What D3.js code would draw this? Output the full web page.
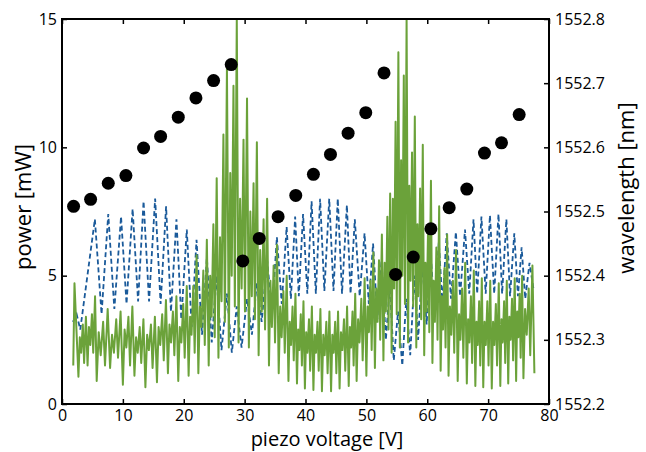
<!DOCTYPE html>
<html>
<head>
<meta charset="utf-8">
<script src="https://cdn.jsdelivr.net/npm/d3@7/dist/d3.min.js"></script>
<style>
  body { margin: 0; background: #fff; }
  text { font-family: "Open Sans", sans-serif; fill: #000; }
</style>
</head>
<body>
<svg id="svg"></svg>
<script>
// wavelength measured at each piezo step (black dots)
var dotV = [1.9, 4.7, 7.6, 10.5, 13.4, 16.2, 19.1, 22.0, 24.9, 27.8, 29.7, 32.4,
  35.5, 38.4, 41.3, 44.1, 47.0, 49.9, 52.9, 54.8, 57.7, 60.6, 63.6, 66.5, 69.4, 72.2, 75.1];
var dotNm = [1552.508, 1552.519, 1552.544, 1552.556, 1552.599, 1552.617, 1552.647, 1552.677,
  1552.704, 1552.729, 1552.423, 1552.458, 1552.492, 1552.525, 1552.558, 1552.589, 1552.622,
  1552.654, 1552.716, 1552.402, 1552.429, 1552.473, 1552.506, 1552.535, 1552.591, 1552.607, 1552.651];

// blue dashed trace: peaks and troughs of each fringe
var bluePeakV = [2.4, 5.4, 7.6, 9.7, 11.6, 13.4, 15.3, 17.1, 18.8, 20.5, 22.1, 23.8, 25.4, 27.1,
  28.7, 30.4, 32.0, 33.7, 35.3, 36.9, 38.3, 39.6, 41.0, 42.4, 43.9, 45.3, 46.8, 48.1, 49.7, 51.1,
  52.5, 53.85, 55.2, 56.55, 57.9, 59.2, 60.55, 61.9, 63.2, 64.7, 66.2, 67.6, 68.9, 70.3, 71.7,
  73.0, 74.3, 75.5, 76.8];
var bluePeakP = [3.5, 7.2, 7.4, 7.3, 7.6, 7.9, 8.0, 7.7, 7.2, 6.8, 6.4, 5.7, 5.0, 4.3,
  3.8, 4.1, 4.7, 5.6, 6.5, 6.9, 7.3, 7.4, 7.9, 8.0, 8.0, 8.0, 7.75, 7.2, 6.65, 6.25,
  5.6, 4.6, 3.6, 4.1, 5.0, 5.5, 5.9, 6.3, 6.65, 6.7, 6.8, 7.2, 7.3, 7.35, 7.4,
  7.2, 6.65, 6.1, 5.5];
var blueTroughV = [1.8, 3.0, 6.5, 8.6, 10.6, 12.5, 14.3, 16.2, 17.9, 19.6, 21.3, 23.0, 24.6, 26.2,
  27.9, 29.5, 31.2, 32.8, 34.5, 36.1, 37.6, 38.9, 40.3, 41.7, 43.1, 44.6, 46.0, 47.4, 48.9,
  50.4, 51.8, 53.2, 54.5, 55.9, 57.2, 58.5, 59.9, 61.2, 62.5, 63.9, 65.4, 66.9, 68.2, 69.6,
  71.0, 72.3, 73.6, 74.9, 76.1, 77.5];
var blueTroughP = [3.2, 2.9, 3.5, 3.7, 3.9, 4.0, 4.0, 3.9, 3.6, 3.3, 3.0, 2.7, 2.4, 2.1,
  2.0, 2.2, 2.7, 3.2, 3.6, 3.9, 4.1, 4.2, 4.3, 4.3, 4.4, 4.4, 4.3, 4.3, 4.2,
  3.9, 3.3, 2.5, 1.7, 1.5, 1.9, 2.5, 3.1, 3.6, 3.9, 4.1, 4.2, 4.3, 4.3, 4.3,
  4.3, 4.3, 4.2, 4.2, 4.1, 4.4];

// green solid trace: one entry per fringe
// (deep trough, sub peak, sub dip, second sub peak, second dip, main peak)
var greenStartV = [1.85, 2.05];
var greenStartP = [1.5, 4.7];
var greenFringeV = [2.7, 4.2, 5.7, 7.9, 10.0, 11.9, 13.7, 15.6, 17.4, 19.1, 20.8, 22.4, 24.1,
  25.7, 27.4, 29.0, 30.7, 32.3, 34.0, 35.6, 37.2, 38.6, 39.9, 41.3, 42.7, 44.2, 45.6, 47.1,
  48.4, 50.0, 51.4, 52.8, 54.15, 55.5, 56.85, 58.2, 59.5, 60.85, 62.2, 63.5, 65.0, 66.5,
  67.9, 69.2, 70.6, 72.0, 73.3, 74.6, 75.8, 77.6];
var greenTrough = [1.06, 1.5, 0.9, 1.4, 0.75, 1.1, 0.65, 0.85, 1.2, 0.9,
  1.1, 1.2, 1.5, 1.8, 2.2, 2.4, 2.2, 1.9, 1.5, 1.2,
  0.9, 0.8, 0.6, 0.55, 0.5, 0.5, 0.6, 0.7, 0.9, 1.1,
  1.4, 1.7, 2.0, 2.2, 2.4, 2.2, 1.9, 1.6, 1.3, 1.1,
  0.9, 0.8, 0.7, 0.65, 0.6, 0.7, 0.8, 0.9, 1.0, 1.2];
var greenSub = [2.6, 3.0, 2.8, 2.7, 2.9, 2.6, 2.7, 3.0, 3.1, 3.0,
  3.4, 3.8, 5.0, 6.5, 9.0, 8.0, 7.5, 6.0, 4.8, 3.8,
  3.2, 2.9, 2.8, 2.7, 2.7, 2.7, 2.8, 3.0, 3.3, 3.8,
  4.5, 5.5, 8.0, 9.5, 8.5, 7.0, 5.5, 4.8, 4.2, 3.8,
  3.5, 3.3, 3.2, 3.2, 3.2, 3.3, 3.4, 3.6, 3.7];
var greenDip = [2.0, 2.3, 1.9, 2.0, 2.2, 2.0, 2.1, 2.3, 2.4, 2.4,
  2.7, 3.0, 3.4, 4.0, 5.0, 4.5, 4.2, 3.6, 3.0, 2.6,
  2.3, 2.1, 2.0, 2.0, 1.9, 2.0, 2.1, 2.2, 2.4, 2.8,
  3.2, 3.6, 4.5, 5.0, 4.8, 4.2, 3.6, 3.2, 2.9, 2.7,
  2.5, 2.4, 2.3, 2.3, 2.3, 2.4, 2.5, 2.6, 2.7];
var greenSub2 = [3.1, 3.5, 3.2, 3.3, 3.4, 3.0, 3.1, 3.5, 3.6, 3.9,
  4.6, 5.2, 7.0, 10.5, 12.4, 10.3, 8.6, 7.2, 5.4, 4.4,
  3.8, 3.5, 3.3, 3.2, 3.2, 3.2, 3.3, 3.6, 4.1, 4.8,
  5.6, 7.3, 11.0, 12.8, 9.8, 8.4, 7.0, 6.1, 5.3, 4.8,
  4.5, 4.2, 4.0, 4.0, 3.9, 4.0, 4.1, 4.3, 4.5];
var greenDip2 = [1.6, 2.0, 1.5, 1.8, 1.5, 1.6, 1.4, 1.7, 1.9, 1.8,
  2.0, 2.3, 2.6, 3.2, 3.8, 3.6, 3.3, 2.9, 2.4, 2.0,
  1.7, 1.5, 1.3, 1.3, 1.2, 1.2, 1.3, 1.5, 1.7, 2.1,
  2.5, 2.9, 3.5, 3.9, 3.8, 3.3, 2.8, 2.5, 2.2, 2.0,
  1.8, 1.6, 1.5, 1.5, 1.5, 1.6, 1.7, 1.8, 1.9];
var greenPeak = [3.4, 4.2, 3.7, 3.6, 3.8, 3.3, 3.4, 4.05, 4.2, 4.6,
  5.8, 6.4, 8.8, 13.1, 15.0, 11.9, 10.2, 8.0, 6.2, 5.0,
  4.3, 4.0, 3.8, 3.7, 3.6, 3.6, 3.8, 4.3, 4.9, 5.9,
  6.6, 8.2, 13.7, 15.0, 11.2, 10.1, 8.7, 7.7, 6.6, 6.0,
  5.5, 5.2, 4.9, 4.8, 4.7, 4.8, 4.9, 5.0, 5.4];

var xTicks = [0, 10, 20, 30, 40, 50, 60, 70, 80];
var pTicks = [0, 5, 10, 15];
var nmTicks = [1552.2, 1552.3, 1552.4, 1552.5, 1552.6, 1552.7, 1552.8];

var width = 646, height = 452;
var plotL = 62, plotR = 549, plotT = 19, plotB = 404;

var svg = d3.select('#svg').attr('width', width).attr('height', height);

var x = d3.scaleLinear().domain([0, 80]).range([plotL, plotR]);
var y = d3.scaleLinear().domain([0, 15]).range([plotB, plotT]);
var yNm = d3.scaleLinear().domain([1552.2, 1552.8]).range([plotB, plotT]);

svg.append('clipPath').attr('id', 'plotclip')
  .append('rect').attr('x', plotL).attr('y', plotT)
  .attr('width', plotR - plotL).attr('height', plotB - plotT);

// blue: merge peaks and troughs in voltage order
var blue = [];
bluePeakV.forEach(function (v, i) { blue.push([v, bluePeakP[i]]); });
blueTroughV.forEach(function (v, i) { blue.push([v, blueTroughP[i]]); });
blue.sort(function (a, b) { return a[0] - b[0]; });

// green: walk the fringes, placing the six readings across each one
var green = [];
greenStartV.forEach(function (v, i) { green.push([v, greenStartP[i]]); });
for (var k = 0; k < greenFringeV.length - 1; ++k) {
  var v0 = greenFringeV[k], d = greenFringeV[k + 1] - v0;
  green.push([v0, greenTrough[k]]);
  green.push([v0 + 0.15 * d, greenSub[k]]);
  green.push([v0 + 0.3 * d, greenDip[k]]);
  green.push([v0 + 0.48 * d, greenSub2[k]]);
  green.push([v0 + 0.62 * d, greenDip2[k]]);
  green.push([v0 + 0.82 * d, greenPeak[k]]);
}
green.push([greenFringeV[greenFringeV.length - 1], greenTrough[greenTrough.length - 1]]);

var line = d3.line().x(function (d) { return x(d[0]); }).y(function (d) { return y(d[1]); });

var plot = svg.append('g').attr('clip-path', 'url(#plotclip)');
plot.append('path').datum(blue)
  .attr('d', line)
  .attr('fill', 'none')
  .attr('stroke', '#1a5a9a')
  .attr('stroke-width', 1.8)
  .attr('stroke-dasharray', '5,3');
plot.append('path').datum(green)
  .attr('d', line)
  .attr('fill', 'none')
  .attr('stroke', '#6ba23a')
  .attr('stroke-width', 2)
  .attr('stroke-linejoin', 'round');

svg.append('g').selectAll('circle')
  .data(dotV)
  .enter().append('circle')
  .attr('cx', function (d) { return x(d); })
  .attr('cy', function (d, i) { return yNm(dotNm[i]); })
  .attr('r', 6.5)
  .attr('fill', '#000');

// axes, ticks pointing inward
function styleAxis(g) {
  g.select('.domain').remove();
  g.selectAll('.tick line').attr('stroke', '#000').attr('stroke-width', 1.5);
  g.selectAll('.tick text').style('font-size', '16px');
}
svg.append('g').attr('transform', 'translate(0,' + plotB + ')')
  .call(d3.axisBottom(x).tickValues(xTicks).tickSize(-5).tickPadding(6))
  .call(styleAxis);
svg.append('g').attr('transform', 'translate(0,' + plotT + ')')
  .call(d3.axisTop(x).tickValues(xTicks).tickSize(-5).tickFormat(''))
  .call(styleAxis);
svg.append('g').attr('transform', 'translate(' + plotL + ',0)')
  .call(d3.axisLeft(y).tickValues(pTicks).tickSize(-5).tickPadding(5))
  .call(styleAxis);
svg.append('g').attr('transform', 'translate(' + plotR + ',0)')
  .call(d3.axisRight(yNm).tickValues(nmTicks).tickSize(-5).tickPadding(6).tickFormat(d3.format('.1f')))
  .call(styleAxis);

svg.append('rect')
  .attr('x', plotL).attr('y', plotT)
  .attr('width', plotR - plotL).attr('height', plotB - plotT)
  .attr('fill', 'none').attr('stroke', '#000').attr('stroke-width', 2);

svg.append('text')
  .attr('x', 327).attr('y', 446)
  .attr('text-anchor', 'middle')
  .style('font-size', '20px')
  .text('piezo voltage [V]');
svg.append('text')
  .attr('transform', 'translate(31,207) rotate(-90)')
  .attr('text-anchor', 'middle')
  .style('font-size', '22px')
  .text('power [mW]');
svg.append('text')
  .attr('transform', 'translate(634,188) rotate(-90)')
  .attr('text-anchor', 'middle')
  .style('font-size', '22px')
  .text('wavelength [nm]');
</script>
</body>
</html>
